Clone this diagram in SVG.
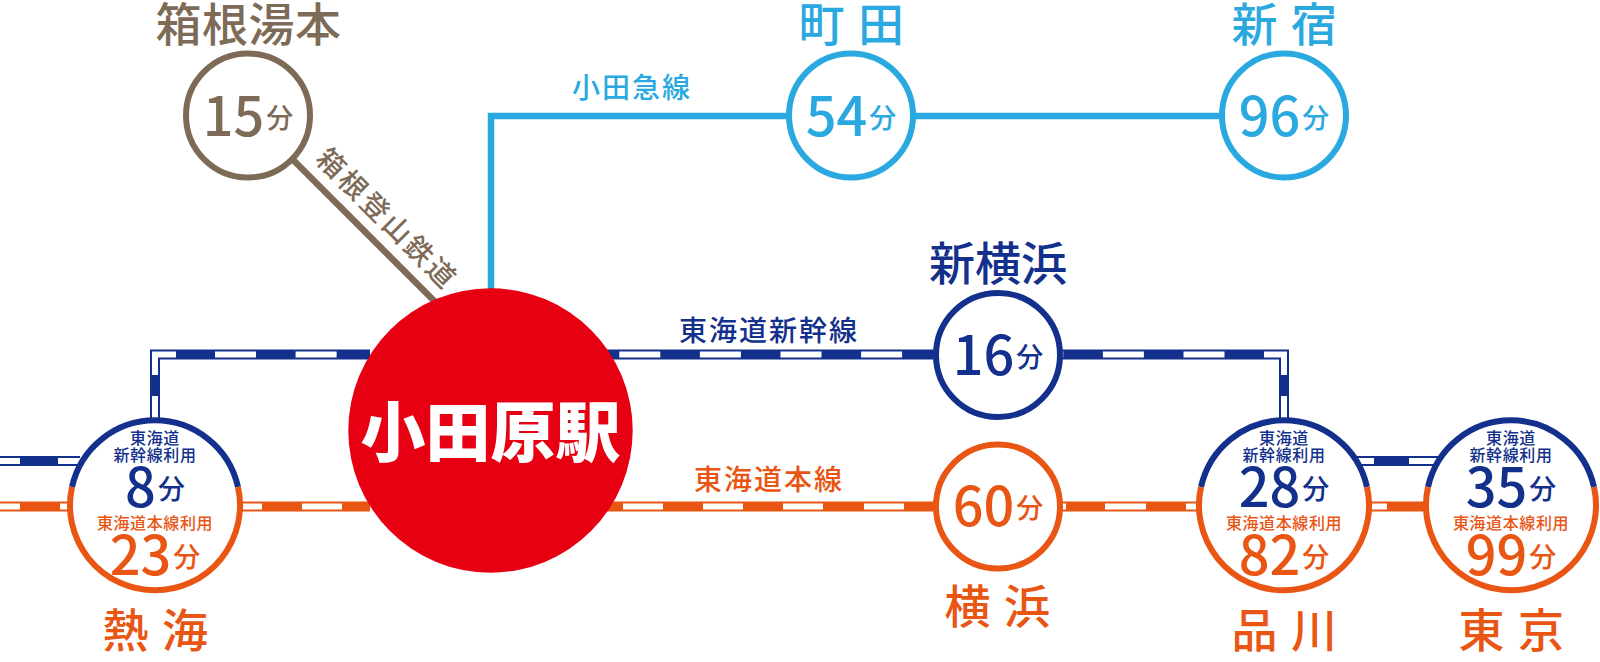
<svg xmlns="http://www.w3.org/2000/svg" width="1600" height="662" viewBox="0 0 1600 662">
<style>
text{font-family:"Noto Sans CJK JP","Noto Sans",sans-serif;font-weight:500;text-anchor:middle}
.b{fill:#13308c}.o{fill:#e95513}.n{fill:#7d6b57}.c{fill:#29a9e0}
.ring{fill:#fff;stroke-width:6}
.name{font-size:46px}
.line{font-size:28px;letter-spacing:2px}
.small{font-size:16px;letter-spacing:.6px}
.num{font-size:54px}
.unit{font-size:27px}
.base{fill:none;stroke-width:10}
.w{fill:none;stroke:#fff;stroke-width:6}
.dash{stroke-dasharray:41 39.6}
</style>
<g id="connectors">
<path d="M491 300V116H1285" fill="none" stroke="#29a9e0" stroke-width="6.500"/>
<path d="M285 151.700L440 306.700" fill="none" stroke="#7d6b57" stroke-width="6.500"/>
<path class="base" stroke="#13308c" d="M155 420V354.500H370"/>
<path class="w" d="M155 418V396M155 375V354.500H176"/>
<path class="w dash" d="M215 354.500H370"/>
<path class="base" stroke="#13308c" d="M1284 420V354.500H600"/>
<path class="w" d="M1284 418V396M1284 375V354.500H1264"/>
<path class="w dash" d="M1224.500 354.500H600"/>
<path class="base" stroke="#13308c" d="M0 461H80"/>
<path class="w" d="M58 461H80M0 461H20"/>
<path class="base" stroke="#13308c" d="M1350 461H1440"/>
<path class="w" d="M1357 461H1374M1409 461H1437"/>
<path class="base" stroke="#e95513" d="M0 506.500H70M240 506.500H370M600 506.500H940M1050 506.500H1200M1368 506.500H1425"/>
<path class="w" d="M0 506.500H20M60 506.500H68M243 506.500H262M302 506.500H342M623 506.500H663M703 506.500H743M783 506.500H823M864 506.500H904M1062 506.500H1066M1105 506.500H1146M1186 506.500H1196M1372 506.500H1387"/>
</g>
<g id="odawara"><circle cx="490.500" cy="430.500" r="142.200" fill="#e60012"/><text x="490.500" y="456" font-size="65" style="font-weight:900" fill="#fff">小田原駅</text></g>
<g id="hakone-yumoto"><text class="name n" x="248.500" y="41" letter-spacing=".5">箱根湯本</text><circle class="ring" cx="248" cy="115.500" r="62" stroke="#7d6b57"/><text class="num n" x="248" y="136">15<tspan class="unit" dx="2" dy="-8">分</tspan></text></g>
<g id="hakone-line"><text class="n" font-size="28" letter-spacing="3" transform="translate(387 219) rotate(45)" x="0" y="10">箱根登山鉄道</text></g>
<g id="odakyu-line"><text class="line c" x="632" y="98">小田急線</text></g>
<g id="machida"><text class="name c" x="852" y="41" letter-spacing="1.500">町 田</text><circle class="ring" cx="851" cy="115.500" r="62" stroke="#29a9e0"/><text class="num c" x="851" y="136">54<tspan class="unit" dx="2" dy="-8">分</tspan></text></g>
<g id="shinjuku"><text class="name c" x="1285" y="41" letter-spacing="1.500">新 宿</text><circle class="ring" cx="1284" cy="115.500" r="62" stroke="#29a9e0"/><text class="num c" x="1284" y="136">96<tspan class="unit" dx="2" dy="-8">分</tspan></text></g>
<g id="shin-yokohama"><text class="name b" x="998" y="280">新横浜</text><circle class="ring" cx="998" cy="355" r="62" stroke="#13308c"/><text class="num b" x="998" y="375">16<tspan class="unit" dx="2" dy="-8">分</tspan></text></g>
<g id="shinkansen-label"><text class="line b" x="769" y="341">東海道新幹線</text></g>
<g id="tokaido-label"><text class="line o" x="769" y="490">東海道本線</text></g>
<g id="yokohama"><circle class="ring" cx="998" cy="506.500" r="62" stroke="#e95513"/><text class="num o" x="998" y="526">60<tspan class="unit" dx="2" dy="-8">分</tspan></text><text class="name o" x="998" y="623" letter-spacing="1.500">横 浜</text></g>
<g id="atami">
<circle cx="155" cy="506.500" r="85" fill="#fff"/>
<path d="M72 487A85 85 0 0 1 238 487" fill="none" stroke="#13308c" stroke-width="6"/>
<path d="M72 487A85 85 0 1 0 238 487" fill="none" stroke="#e95513" stroke-width="6"/>
<text class="small b" x="155" y="444">東海道</text><text class="small b" x="155" y="461">新幹線利用</text>
<text class="num b" x="155" y="507">8<tspan class="unit" dx="2" dy="-8">分</tspan></text>
<text class="small o" x="155" y="529">東海道本線利用</text>
<text class="num o" x="155" y="575">23<tspan class="unit" dx="2" dy="-8">分</tspan></text>
<text class="name o" x="156" y="647" letter-spacing="1.500">熱 海</text>
</g>
<g id="shinagawa">
<circle cx="1284" cy="506.500" r="85" fill="#fff"/>
<path d="M1201 487A85 85 0 0 1 1367 487" fill="none" stroke="#13308c" stroke-width="6"/>
<path d="M1201 487A85 85 0 1 0 1367 487" fill="none" stroke="#e95513" stroke-width="6"/>
<text class="small b" x="1284" y="444">東海道</text><text class="small b" x="1284" y="461">新幹線利用</text>
<text class="num b" x="1284" y="507">28<tspan class="unit" dx="2" dy="-8">分</tspan></text>
<text class="small o" x="1284" y="529">東海道本線利用</text>
<text class="num o" x="1284" y="575">82<tspan class="unit" dx="2" dy="-8">分</tspan></text>
<text class="name o" x="1285" y="647" letter-spacing="1.500">品 川</text>
</g>
<g id="tokyo">
<circle cx="1511" cy="506.500" r="85" fill="#fff"/>
<path d="M1428 487A85 85 0 0 1 1594 487" fill="none" stroke="#13308c" stroke-width="6"/>
<path d="M1428 487A85 85 0 1 0 1594 487" fill="none" stroke="#e95513" stroke-width="6"/>
<text class="small b" x="1511" y="444">東海道</text><text class="small b" x="1511" y="461">新幹線利用</text>
<text class="num b" x="1511" y="507">35<tspan class="unit" dx="2" dy="-8">分</tspan></text>
<text class="small o" x="1511" y="529">東海道本線利用</text>
<text class="num o" x="1511" y="575">99<tspan class="unit" dx="2" dy="-8">分</tspan></text>
<text class="name o" x="1512" y="647" letter-spacing="1.500">東 京</text>
</g>
</svg>
